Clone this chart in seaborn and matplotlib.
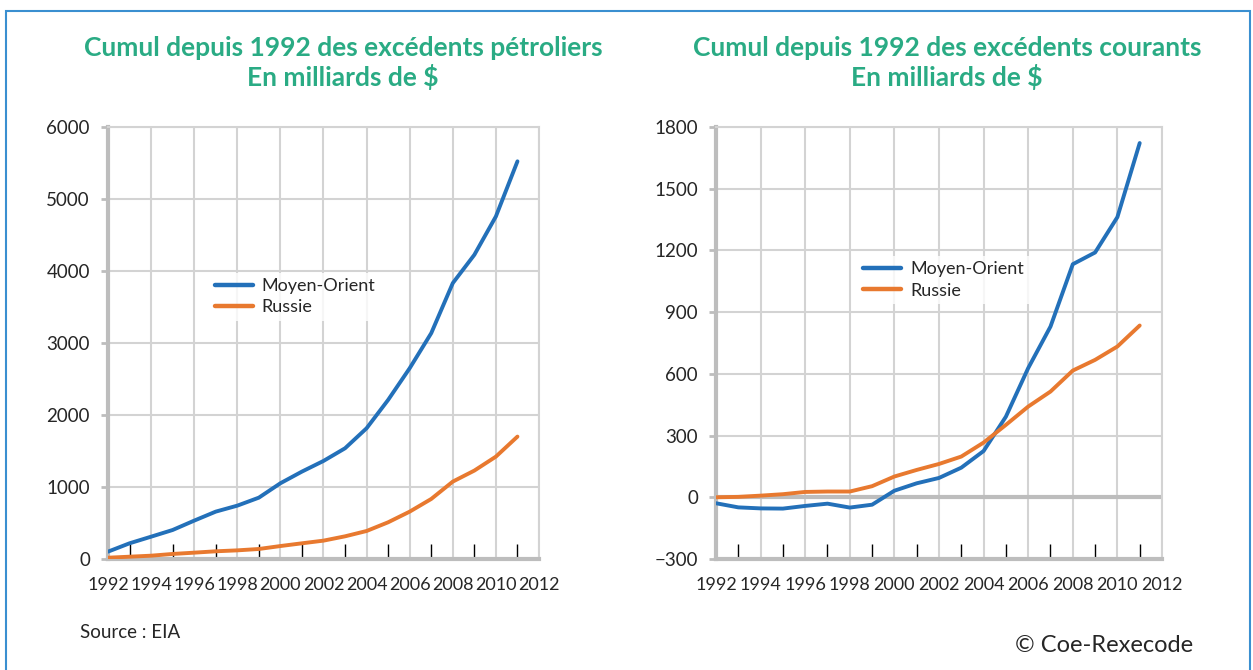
import numpy as np
import pandas as pd
import seaborn as sns
import matplotlib.pyplot as plt
from matplotlib.patches import Rectangle
from matplotlib.ticker import MultipleLocator

years = list(range(1992, 2012))

# cumul des excedents petroliers (Mds $)
petrole_mo = [102, 218, 310, 403, 533, 658, 741, 852, 1052, 1214,
              1362, 1538, 1816, 2210, 2650, 3137, 3832, 4225, 4758, 5523]
petrole_ru = [18, 32, 46, 70, 88, 107, 120, 139, 180, 218,
              255, 315, 389, 510, 658, 834, 1075, 1228, 1422, 1700]

# cumul des excedents courants (Mds $)
courant_mo = [-29, -49, -54, -55, -42, -31, -50, -36, 32, 68,
              94, 144, 225, 392, 628, 830, 1133, 1190, 1362, 1722]
courant_ru = [0, 2, 8, 15, 26, 28, 28, 54, 101, 133,
              162, 198, 266, 352, 441, 514, 616, 668, 733, 835]

series_names = ['Moyen-Orient', 'Russie']
left_title = 'Cumul depuis 1992 des excédents pétroliers\nEn milliards de $'
right_title = 'Cumul depuis 1992 des excédents courants\nEn milliards de $'

BLUE = '#2370b9'
ORANGE = '#e8792f'
GREEN = '#2aab84'
GRID = '#d3d3d3'
AXIS = '#bdbdbd'

sns.set_style('white')
plt.rcParams['font.family'] = ['Lato', 'DejaVu Sans']


def make_df(mo, ru):
    return pd.DataFrame({
        'annee': years * 2,
        'valeur': mo + ru,
        'serie': [series_names[0]] * len(years) + [series_names[1]] * len(years),
    })


def style_axes(ax, ymin, ymax, ystep, legend_xy):
    ax.set_xlim(1992, 2012)
    ax.set_ylim(ymin, ymax)
    ax.xaxis.set_major_locator(MultipleLocator(2))
    ax.xaxis.set_minor_locator(MultipleLocator(2, offset=1))
    ax.yaxis.set_major_locator(MultipleLocator(ystep))
    ax.grid(True, which='major', color=GRID, linewidth=1.5, zorder=0)
    ax.set_axisbelow(True)
    ax.tick_params(which='both', bottom=True, left=True)
    ax.tick_params(axis='x', which='major', length=0, pad=13, labelsize=13)
    ax.tick_params(axis='x', which='minor', direction='in', length=11,
                   width=1.0, color='black')
    ax.tick_params(axis='y', which='major', length=5, width=2, color=AXIS,
                   pad=8, labelsize=13.5)
    for s in ['top', 'right']:
        ax.spines[s].set_color(GRID)
        ax.spines[s].set_linewidth(1.5)
    for s in ['left', 'bottom']:
        ax.spines[s].set_color(AXIS)
        ax.spines[s].set_linewidth(3)
    ax.set_xlabel('')
    ax.set_ylabel('')
    leg = ax.legend(loc='upper left', bbox_to_anchor=legend_xy, frameon=True,
                    fontsize=13, handlelength=2.1, handletextpad=0.5,
                    borderpad=0.3, labelspacing=0.3, borderaxespad=0)
    leg.get_frame().set_facecolor('white')
    leg.get_frame().set_edgecolor('none')
    leg.get_frame().set_boxstyle('square', pad=0)
    for line in leg.get_lines():
        line.set_linewidth(3.2)


fig = plt.figure(figsize=(12.53, 6.70), dpi=100)
ax1 = fig.add_axes([108 / 1253, 111 / 670, 431 / 1253, 432 / 670])
ax2 = fig.add_axes([716 / 1253, 111 / 670, 446 / 1253, 432 / 670])

palette = {series_names[0]: BLUE, series_names[1]: ORANGE}

sns.lineplot(data=make_df(petrole_mo, petrole_ru), x='annee', y='valeur',
             hue='serie', palette=palette, linewidth=2.8, ax=ax1, zorder=3)
style_axes(ax1, 0, 6000, 1000, (0.235, 0.663))

sns.lineplot(data=make_df(courant_mo, courant_ru), x='annee', y='valeur',
             hue='serie', palette=palette, linewidth=2.8, ax=ax2, zorder=3)
ax2.axhline(0, color=AXIS, linewidth=3, zorder=2)
style_axes(ax2, -300, 1800, 300, (0.318, 0.702))

fig.text(343 / 1253, 1 - 63 / 670, left_title, ha='center', va='center',
         fontsize=19, fontweight='bold', color=GREEN, linespacing=1.15)
fig.text(947 / 1253, 1 - 63 / 670, right_title, ha='center', va='center',
         fontsize=19, fontweight='bold', color=GREEN, linespacing=1.15)

fig.text(80 / 1253, 1 - 632 / 670, 'Source : EIA', ha='left', va='center',
         fontsize=13.5)
fig.text(1193 / 1253, 1 - 645 / 670, '© Coe-Rexecode', ha='right',
         va='center', fontsize=17)

fig.add_artist(Rectangle((6 / 1253, -0.1), 1244 / 1253, 0.1 + (670 - 11) / 670,
                         transform=fig.transFigure, fill=False,
                         edgecolor='#3a8fd0', linewidth=1.5, clip_on=False))

fig.savefig('out.png', dpi=100, facecolor='white')
